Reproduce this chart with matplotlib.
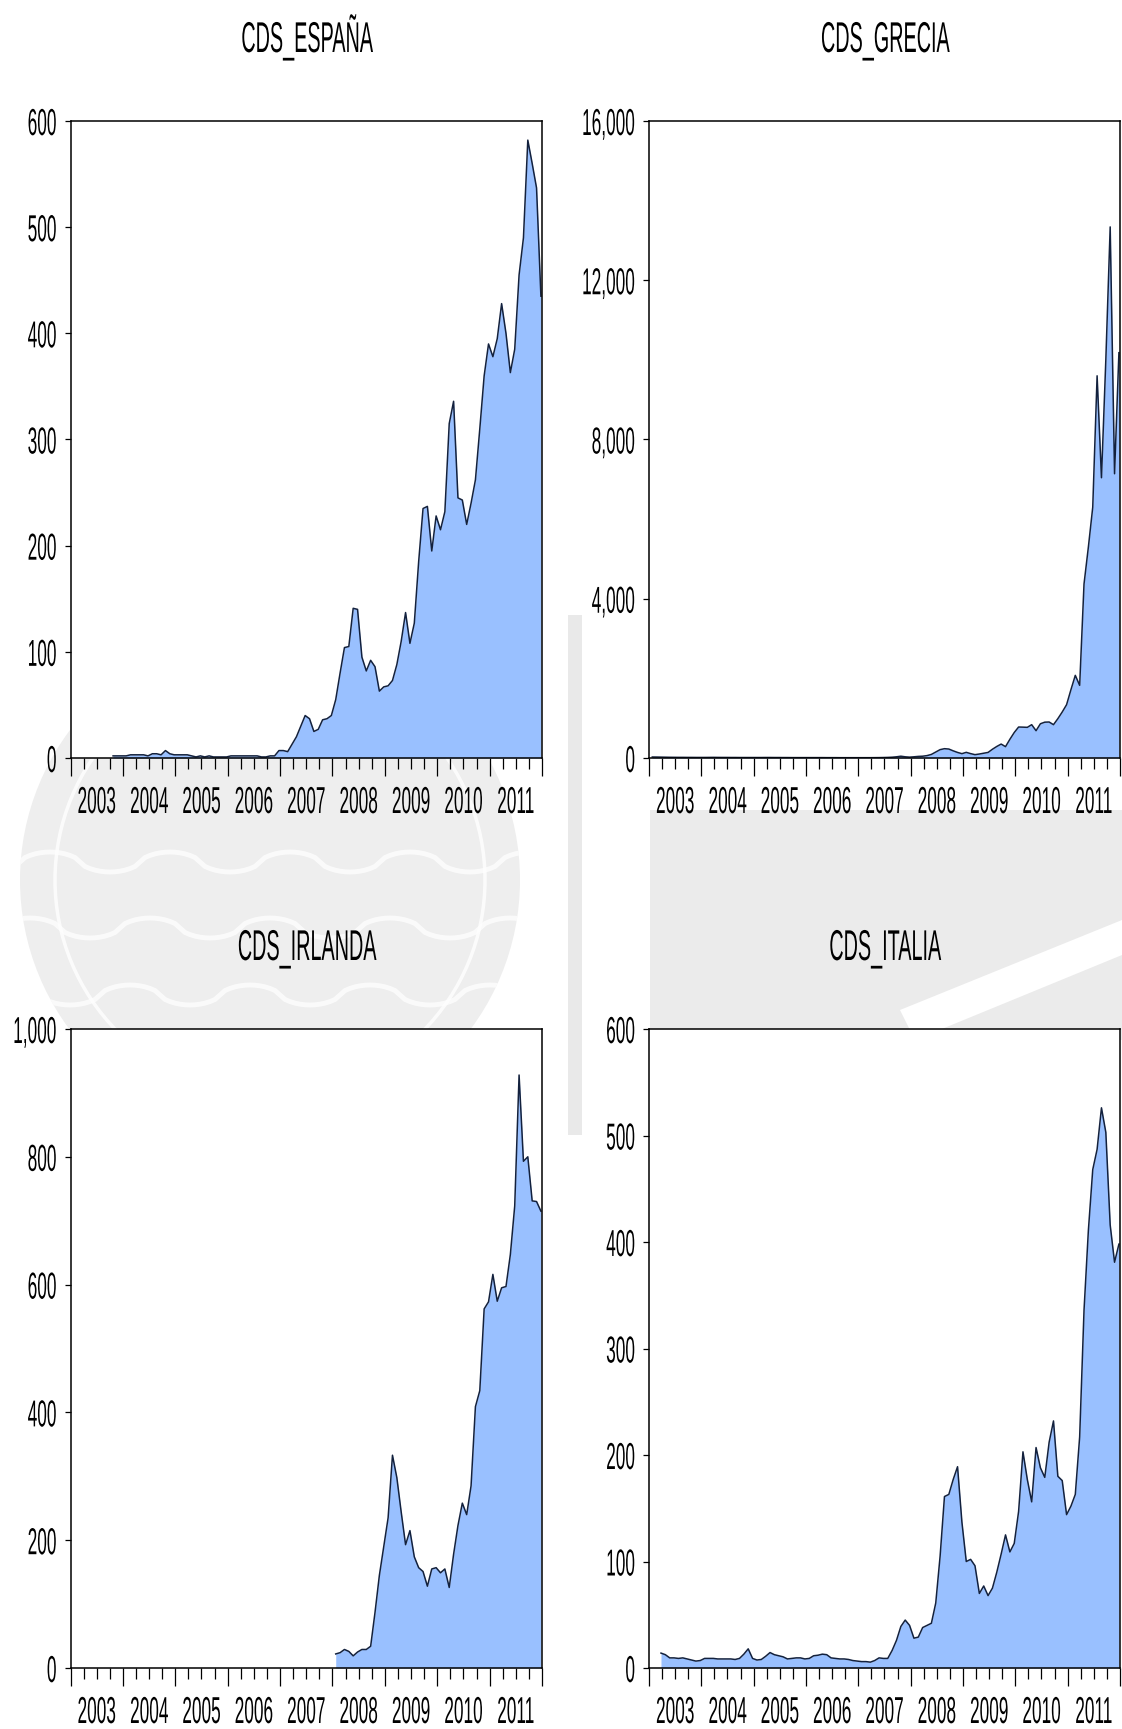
import numpy as np
import matplotlib
matplotlib.use("Agg")
import matplotlib.pyplot as plt
from matplotlib.patches import Circle, Rectangle, Polygon
from matplotlib.lines import Line2D
from matplotlib.patheffects import AbstractPathEffect
from matplotlib.path import Path
from matplotlib.transforms import Affine2D, blended_transform_factory
from matplotlib.ticker import FixedLocator, FuncFormatter

plt.rcParams['font.family'] = ['Liberation Sans', 'DejaVu Sans']

nan = float('nan')

# monthly observations, Jan 2003 .. Dec 2011 (one row per year)
years = list(range(2003, 2012))

cds_espana = [
    nan, nan, nan, nan, nan, nan, nan, nan, nan, 2, 2, 2,
    2, 3, 3, 3, 3, 2, 4, 4, 3, 7, 4, 3,
    3, 3, 3, 2, 1, 2, 1, 2, 1, 1, 1, 1,
    2, 2, 2, 2, 2, 2, 2, 1, 1, 2, 2, 7,
    7, 6, 13, 20, 30, 40, 37, 25, 27, 36, 37, 40,
    55, 80, 104, 105, 141, 140, 95, 82, 92, 86, 63, 67,
    68, 73, 88, 110, 137, 108, 127, 185, 235, 237, 195, 228,
    215, 232, 315, 336, 245, 243, 220, 240, 262, 310, 360, 390,
    378, 395, 428, 400, 363, 385, 455, 490, 582, 560, 537, 435,
]

cds_grecia = [
    25, 24, 22, 20, 18, 17, 16, 16, 15, 15, 14, 14,
    14, 15, 16, 15, 14, 14, 13, 13, 12, 12, 12, 12,
    12, 12, 13, 13, 12, 12, 11, 11, 10, 10, 10, 10,
    10, 10, 10, 10, 9, 9, 9, 8, 8, 8, 8, 8,
    8, 8, 8, 9, 10, 12, 15, 20, 30, 45, 30, 22,
    30, 40, 45, 60, 90, 150, 210, 234, 225, 180, 140, 109,
    142, 110, 84, 100, 120, 140, 220, 290, 350, 285, 470, 640,
    778, 775, 770, 837, 686, 860, 900, 904, 837, 988, 1155, 1339,
    1716, 2076, 1825, 4372, 5300, 6300, 9600, 7040, 10000, 13340, 7140, 10180,
]

cds_irlanda = [nan] * 60 + [
    22, 24, 29, 26, 19, 25, 29, 29, 34, 87, 145, 190,
    235, 333, 298, 244, 193, 215, 174, 157, 151, 128, 155, 157,
    149, 155, 126, 178, 223, 258, 240, 285, 409, 434, 562, 573,
    616, 574, 595, 597, 647, 723, 928, 793, 800, 731, 730, 715,
]

cds_italia = [
    nan, nan, 14, 12.5, 9.5, 9.5, 9, 9.5, 8.5, 7.5, 6.5, 7,
    9, 9, 9, 8.5, 8.5, 8.5, 8.5, 8, 9, 13, 18, 9,
    7.5, 8, 11, 14.5, 12.5, 11.5, 10.5, 8.5, 9, 9.5, 9.5, 8.5,
    9, 11.5, 12, 13, 12.5, 9.5, 9, 8.5, 8.5, 8, 7, 6.5,
    6, 6, 5.5, 7, 9.5, 9, 9, 16.5, 26, 39, 45, 40,
    28, 29, 38, 40, 42, 61, 105, 161, 163, 177, 189, 137,
    100, 102, 96, 70, 77, 68, 75, 90, 107, 125, 109, 117,
    147, 203, 177, 156, 207, 188, 179, 212, 232, 180, 176, 144,
    152, 163, 217, 336, 411, 468, 487, 526, 503, 416, 381, 398,
]

panels = [
    ('CDS_ESPAÑA', cds_espana, [0, 100, 200, 300, 400, 500, 600]),
    ('CDS_GRECIA', cds_grecia, [0, 4000, 8000, 12000, 16000]),
    ('CDS_IRLANDA', cds_irlanda, [0, 200, 400, 600, 800, 1000]),
    ('CDS_ITALIA', cds_italia, [0, 100, 200, 300, 400, 500, 600]),
]

FILL = '#99c0ff'
EDGE = '#13213d'
SQ = 0.46          # horizontal squeeze of the lettering (narrow type)


class Squeeze(AbstractPathEffect):
    """Draw text narrower, keeping its left/center/right edge in place."""

    def __init__(self, sx, anchor='center'):
        super().__init__()
        self.sx = sx
        self.anchor = anchor

    def draw_path(self, renderer, gc, tpath, affine, rgbFace=None):
        v = tpath.vertices
        if tpath.codes is not None:
            v = v[tpath.codes != Path.CLOSEPOLY]
        if len(v):
            lo, hi = v[:, 0].min(), v[:, 0].max()
            cx = {'left': lo, 'right': hi}.get(self.anchor, 0.5 * (lo + hi))
        else:
            cx = 0
        sq = Affine2D().translate(-cx, 0).scale(self.sx, 1).translate(cx, 0)
        renderer.draw_path(gc, tpath, sq + affine, rgbFace)


W, H = 1122, 1729
fig = plt.figure(figsize=(W / 100, H / 100), dpi=100)
fig.patch.set_facecolor('white')


def px(x, y):
    return (x / 100, (H - y) / 100)


# faint seal in the page background
wm = '#eeeeee'
tr = fig.dpi_scale_trans
seal = Circle(px(270, 880), 2.5, transform=tr, fc=wm, ec='none', zorder=-5)
fig.patches.append(seal)
fig.patches.append(Circle(px(270, 880), 2.15, transform=tr, fill=False,
                          ec='white', lw=2.5, alpha=0.8, zorder=-4))
for k, y0 in enumerate((862, 928, 995)):
    wx = np.arange(20, 540, 5)
    ph = (wx - 20 + 20 * k) / 60 * np.pi
    wy = y0 - 10 * np.sign(np.sin(ph)) * np.abs(np.sin(ph)) ** 0.6
    ln = Line2D(wx / 100, (H - wy) / 100, transform=tr, color='white', lw=3.5,
                alpha=0.75, zorder=-4)
    ln.set_clip_path(seal)
    fig.lines.append(ln)
fig.patches.append(Rectangle(px(650, 1040), 4.72, 2.3, transform=tr,
                             fc='#ebebeb', ec='none', zorder=-5))
fig.patches.append(Polygon([px(900, 1010), px(1122, 920), px(1122, 955), px(915, 1040)],
                           closed=True, transform=tr, fc='white', ec='none', zorder=-4))
fig.patches.append(Rectangle(px(568, 1135), 0.14, 5.2, transform=tr,
                             fc='#e9e9e9', ec='none', zorder=-5))

# axes boxes in pixels: left, top, right, bottom
boxes = [(70.5, 121, 542, 758), (649, 121, 1120, 758),
         (70.5, 1029, 542, 1668), (649, 1029, 1120, 1668)]

x = np.array([2003 + (i + 0.75) / 12 for i in range(len(cds_grecia))])
major = [float(y) for y in range(2003, 2013)]
minor = [y + q / 4 for y in years for q in (1, 2, 3)]

for (title, values, yticks), (l, t, r, b) in zip(panels, boxes):
    ax = fig.add_axes([l / W, 1 - b / H, (r - l) / W, (b - t) / H])
    ax.set_facecolor('white')
    hpx = b - t
    v = np.array(values, dtype=float)
    ok = ~np.isnan(v)
    ax.fill_between(x[ok], 0, v[ok], color=FILL, lw=0, zorder=2)
    ax.plot(x[ok], v[ok], color=EDGE, lw=1.1, zorder=3)

    ax.set_xlim(2003, 2012)
    ax.set_ylim(0, yticks[-1])
    ax.set_yticks(yticks)
    ax.yaxis.set_major_formatter(FuncFormatter(lambda val, pos: f'{int(val):,}'))
    ax.xaxis.set_major_locator(FixedLocator(major))
    ax.xaxis.set_minor_locator(FixedLocator(minor))
    ax.tick_params(axis='x', which='both', labelbottom=False, direction='out',
                   width=0.9, color='black')
    ax.tick_params(axis='x', which='major', length=13)
    ax.tick_params(axis='x', which='minor', length=8)
    ax.tick_params(axis='y', which='major', length=4.5, width=0.9, direction='out',
                   pad=5, labelsize=27)
    for tick in ax.yaxis.get_major_ticks():
        tick.label1.set_path_effects([Squeeze(SQ, 'right')])
    for s in ax.spines.values():
        s.set_linewidth(1.1)
        s.set_color('black')
        s.set_zorder(4)

    # year names sit between the yearly ticks
    bt = blended_transform_factory(ax.transData, ax.transAxes)
    for yr in years:
        ax.text(yr + 0.5, -55 / hpx, str(yr), transform=bt, ha='center',
                va='baseline', fontsize=27, path_effects=[Squeeze(SQ)])

    ax.text(0.5, 1 + 69 / hpx, title, transform=ax.transAxes, ha='center',
            va='baseline', fontsize=31, path_effects=[Squeeze(SQ)])

fig.savefig('out.png', dpi=100)
